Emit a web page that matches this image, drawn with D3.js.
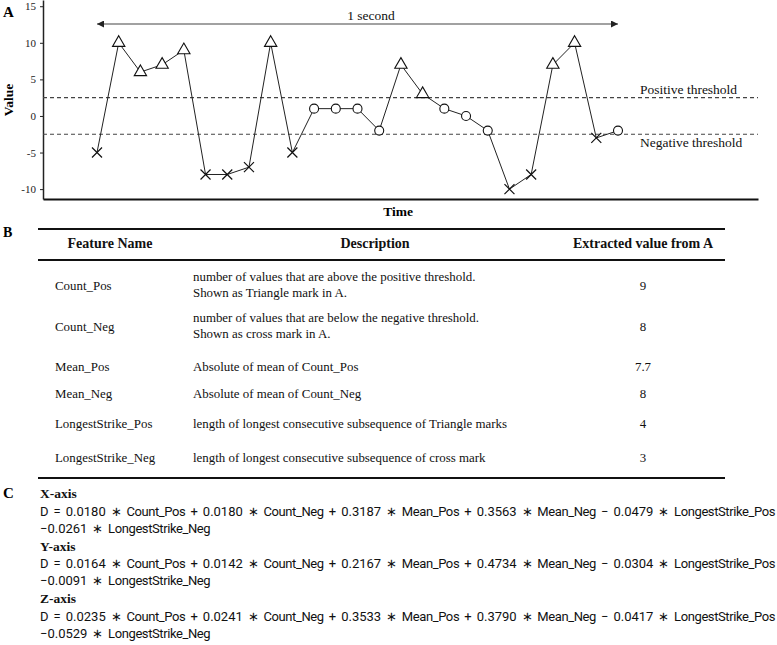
<!DOCTYPE html>
<html><head><meta charset="utf-8">
<script src="https://cdn.jsdelivr.net/npm/d3@7"></script>
<style>body{margin:0;background:#fff} svg{display:block}</style>
</head><body>
<svg id="c" width="777" height="645"></svg>
<script>
// ---- data ----
const values = [-5,10,6,7,9,-8,-8,-7,10,-5,1,1,1,-2,7,3,1,0,-2,-10,-8,7,10,-3,-2];
const yTicks = [15,10,5,0,-5,-10];
const thresholds = [2.5,-2.5];
const thresholdLabels = ["Positive threshold","Negative threshold"];
const spanLabel = "1 second";
const headers = ["Feature Name","Description","Extracted value from A"];
const featureNames = ["Count_Pos","Count_Neg","Mean_Pos","Mean_Neg","LongestStrike_Pos","LongestStrike_Neg"];
const descriptions = [
  ["number of values that are above the positive threshold.","Shown as Triangle mark in A."],
  ["number of values that are below the negative threshold.","Shown as cross mark in A."],
  ["Absolute of mean of Count_Pos"],
  ["Absolute of mean of Count_Neg"],
  ["length of longest consecutive subsequence of Triangle marks"],
  ["length of longest consecutive subsequence of cross mark"]
];
const extracted = ["9","8","7.7","8","4","3"];
const axisNames = ["X-axis","Y-axis","Z-axis"];
const coefX = ["0.0180","0.0180","0.3187","0.3563","0.0479","0.0261"];
const coefY = ["0.0164","0.0142","0.2167","0.4734","0.0304","0.0091"];
const coefZ = ["0.0235","0.0241","0.3533","0.3790","0.0417","0.0529"];

const svg = d3.select("#c");
const serif = "'Liberation Serif','Times New Roman',serif";

// ---- panel A ----
const x = d3.scaleLinear().domain([0, values.length-1]).range([97, 618]);
const y = d3.scaleLinear().domain([-11.35, 15.85]).range([199, 0]);
const axX0 = 43, axX1 = 758;

svg.append("text").attr("x",3).attr("y",17).attr("font-family",serif)
  .attr("font-weight","bold").attr("font-size",15).text("A");

const gy = svg.append("g").attr("transform",`translate(${axX0},0)`)
  .call(d3.axisLeft(y).tickValues(yTicks).tickSize(3).tickSizeOuter(0).tickPadding(4).tickFormat(d=>String(d)));
gy.selectAll("text").attr("font-family",serif).attr("font-size",11).attr("fill","#222");
gy.select(".domain").attr("stroke","#222").attr("stroke-width",1.5);
gy.selectAll(".tick line").attr("stroke","#222");

const gx = svg.append("g").attr("transform",`translate(0,${y.range()[0]})`)
  .call(d3.axisBottom(d3.scaleLinear().range([axX0, axX1])).ticks(0).tickSize(0).tickSizeOuter(0));
gx.select(".domain").attr("stroke","#111").attr("stroke-width",2);

// thresholds
svg.selectAll("line.thr").data(thresholds).join("line").attr("class","thr")
  .attr("x1",axX0).attr("x2",axX1).attr("y1",d=>y(d)).attr("y2",d=>y(d))
  .attr("stroke","#444").attr("stroke-width",1.2).attr("stroke-dasharray","4,3");
svg.selectAll("text.thr").data(thresholds).join("text").attr("class","thr")
  .attr("x",640).attr("y",(d,i)=> i===0 ? y(d)-4 : y(d)+13)
  .attr("font-family",serif).attr("font-size",13.5).attr("fill","#111")
  .text((d,i)=>thresholdLabels[i]);

// line
svg.append("path").datum(values)
  .attr("d", d3.line().x((d,i)=>x(i)).y(d=>y(d)))
  .attr("fill","none").attr("stroke","#222").attr("stroke-width",1);

// markers
const kind = v => v > thresholds[0] ? "tri" : (v < thresholds[1] ? "cross" : "circ");
const mk = svg.append("g");
values.forEach((v,i)=>{
  const k = kind(v), cx = x(i), cy = y(v);
  if(k==="tri"){
    mk.append("path").attr("transform",`translate(${cx},${cy})`)
      .attr("d", d3.symbol(d3.symbolTriangle, 66)())
      .attr("fill","#fff").attr("stroke","#111").attr("stroke-width",1.1);
  } else if(k==="circ"){
    mk.append("circle").attr("cx",cx).attr("cy",cy).attr("r",4.5)
      .attr("fill","#fff").attr("stroke","#111").attr("stroke-width",1.1);
  } else {
    const s = 5;
    mk.append("path").attr("d",`M${cx-s},${cy-s}L${cx+s},${cy+s}M${cx-s},${cy+s}L${cx+s},${cy-s}`)
      .attr("stroke","#111").attr("stroke-width",1.2).attr("fill","none");
  }
});

// arrow "1 second"
const defs = svg.append("defs");
["s","e"].forEach(id=>{
  defs.append("marker").attr("id","ar"+id).attr("viewBox","0 0 10 10")
    .attr("refX", id==="e"?10:0).attr("refY",5).attr("markerWidth",9).attr("markerHeight",7)
    .attr("markerUnits","userSpaceOnUse").attr("orient","auto")
    .append("path").attr("d", id==="e" ? "M0,0L10,5L0,10Z" : "M10,0L0,5L10,10Z").attr("fill","#222");
});
svg.append("line").attr("x1",x(0)).attr("x2",x(values.length-1)).attr("y1",24).attr("y2",24)
  .attr("stroke","#444").attr("stroke-width",1.2)
  .attr("marker-start","url(#ars)").attr("marker-end","url(#are)");
svg.append("text").attr("x",371).attr("y",20).attr("text-anchor","middle")
  .attr("font-family",serif).attr("font-size",13.5).attr("fill","#111").text(spanLabel);

svg.append("text").attr("transform","translate(13,100) rotate(-90)").attr("text-anchor","middle")
  .attr("font-family",serif).attr("font-weight","bold").attr("font-size",13.5).text("Value");
svg.append("text").attr("x",398).attr("y",216).attr("text-anchor","middle")
  .attr("font-family",serif).attr("font-weight","bold").attr("font-size",13.5).text("Time");

// ---- panel B ----
svg.append("text").attr("x",3).attr("y",237).attr("font-family",serif)
  .attr("font-weight","bold").attr("font-size",14).text("B");
const tL = 38, tR = 725;
const rule = (yy,w)=> svg.append("line").attr("x1",tL).attr("x2",tR).attr("y1",yy).attr("y2",yy)
  .attr("stroke","#111").attr("stroke-width",w);
rule(229,2.2); rule(260,1.8); rule(478,2.2);
const hx = [110, 375, 643];
headers.forEach((h,i)=> svg.append("text").attr("x",hx[i]).attr("y",248).attr("text-anchor","middle")
  .attr("font-family",serif).attr("font-weight","bold").attr("font-size",14).attr("fill","#111").text(h));

const rowY = [290, 331, 371, 398, 428, 462];
const bodySize = 12.9;
featureNames.forEach((f,i)=>{
  const ry = rowY[i];
  svg.append("text").attr("x",55).attr("y",ry).attr("font-family",serif).attr("font-size",bodySize).attr("fill","#111").text(f);
  svg.append("text").attr("x",643).attr("y",ry).attr("text-anchor","middle").attr("font-family",serif)
    .attr("font-size",bodySize).attr("fill","#111").text(extracted[i]);
  const d = descriptions[i];
  d.forEach((line,j)=>{
    const dy = d.length===2 ? (j===0 ? -9 : 7) : 0;
    svg.append("text").attr("x",193).attr("y",ry+dy).attr("font-family",serif)
      .attr("font-size",bodySize).attr("fill","#111").text(line);
  });
});

// ---- panel C ----
svg.append("text").attr("x",3).attr("y",498).attr("font-family",serif)
  .attr("font-weight","bold").attr("font-size",15).text("C");

const eqFont = "Roboto,'Noto Sans',sans-serif";
const eqSize = 13;
function eqLine(sel, tokens){
  tokens.forEach((t,k)=>{
    const isId = /[A-Za-z]{2}/.test(t);
    sel.append("tspan").text((k>0?" ":"") + t)
      .attr("letter-spacing", isId ? -0.4 : 0);
  });
}
const coefs = [coefX, coefY, coefZ];
const blockY = [498, 550.5, 603];
const lines = [];
coefs.forEach((c,i)=>{
  const by = blockY[i];
  svg.append("text").attr("x",40).attr("y",by).attr("font-family",serif)
    .attr("font-weight","bold").attr("font-size",13.5).attr("fill","#111").text(axisNames[i]);
  const t1 = ["D","=",c[0],"\u2217","Count_Pos","+",c[1],"\u2217","Count_Neg","+",c[2],"\u2217","Mean_Pos","+",c[3],"\u2217","Mean_Neg","\u2212",c[4],"\u2217","LongestStrike_Pos"];
  const t2 = ["\u2212"+c[5],"\u2217","LongestStrike_Neg"];
  const a = svg.append("text").attr("x",40).attr("y",by+17.5).attr("fill","#111")
    .attr("font-family",eqFont).attr("font-size",eqSize);
  eqLine(a, t1);
  const b = svg.append("text").attr("x",40).attr("y",by+34.5).attr("fill","#111")
    .attr("font-family",eqFont).attr("font-size",eqSize);
  eqLine(b, t2);
  lines.push(a, b);
});
// adjust the spaces so the long lines span x = 40..775 as in the reference
const natural = lines[0].node().getComputedTextLength();
const ws = Math.max(-1.5, (735 - natural) / 20);
lines.forEach(l => l.attr("word-spacing", ws));
</script>
</body></html>
